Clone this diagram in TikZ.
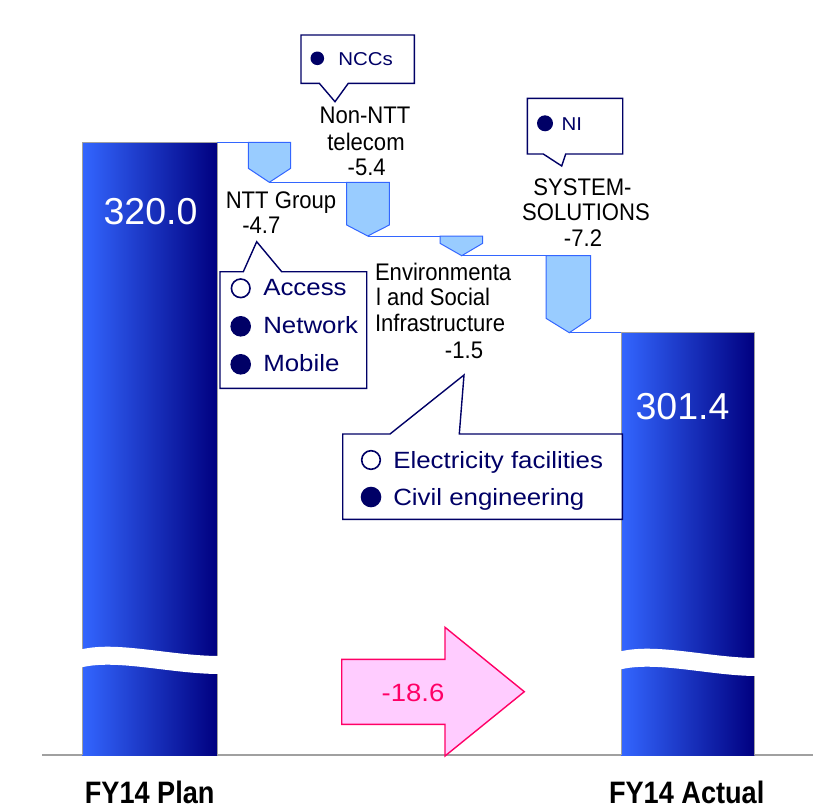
\documentclass[tikz,border=0pt]{standalone}
\usepackage{fontspec}
\setmainfont{Liberation Sans}
\newfontfamily\narrowfont[FakeStretch=0.92]{Liberation Sans}
\newfontfamily\widefont[FakeStretch=1.1]{Liberation Sans}
\newfontfamily\plainfont{Liberation Sans}
\newfontfamily\boldnarrow[FakeStretch=0.875]{Liberation Sans}

\definecolor{barL}{RGB}{51,102,255}
\definecolor{barR}{RGB}{0,0,128}
\definecolor{stepFill}{RGB}{153,204,255}
\definecolor{stepLine}{RGB}{51,102,255}
\definecolor{navy}{RGB}{0,0,102}
\definecolor{pinkLine}{RGB}{255,0,102}
\definecolor{pinkFill}{RGB}{255,204,255}
\definecolor{axisGray}{RGB}{160,160,160}

\tikzset{
  txt/.style={inner sep=0pt, outer sep=0pt},
  steplabel/.style={txt, font=\narrowfont\fontsize{24}{24}\selectfont, text=black},
  legendtext/.style={txt, font=\widefont\fontsize{23.5}{24}\selectfont, text=navy},
  smalllegend/.style={txt, font=\widefont\fontsize{18.6}{20}\selectfont, text=navy},
  barvalue/.style={txt, font=\plainfont\fontsize{37.5}{38}\selectfont, text=white},
  catlabel/.style={txt, font=\boldnarrow\bfseries\fontsize{31}{31}\selectfont, text=black},
  stepbox/.style={fill=stepFill, draw=stepLine, line width=1pt, line join=miter},
  steplink/.style={draw=stepLine, line width=1pt},
  callout/.style={fill=white, draw=navy, line width=1.4pt, line join=miter},
  opendot/.style={fill=white, draw=navy, line width=1.6pt},
  fulldot/.style={fill=navy, draw=none},
  bargrad/.style={left color=barL, right color=barR},
  barframe/.style={draw=axisGray, line width=0.8pt},
  gap/.style={fill=white, draw=none},
}

\begin{document}
\begin{tikzpicture}[x=1pt, y=-1pt]
\useasboundingbox (0,0) rectangle (813,811);

% --- axis line ---
\coordinate (axL) at (42,755);
\coordinate (axR) at (813,755);
\draw[axisGray, line width=1.3pt] (axL) -- (axR);

% --- the two bars ---
\shade[bargrad] (82,142.3) rectangle (217,755);
\draw[barframe] (82,755) -- (82,142.3) -- (217,142.3) -- (217,755);
\shade[bargrad] (621,332.7) rectangle (754.3,755);
\draw[barframe] (621,755) -- (621,332.7) -- (754.3,332.7) -- (754.3,755);

% axis breaks (white wavy bands)
\path[gap] (79,650) .. controls (115,640) and (170,656) .. (220,656)
        -- (220,674) .. controls (170,674) and (115,658) .. (79,668) -- cycle;
\path[gap] (618,652) .. controls (655,642) and (710,658) .. (757,658)
        -- (757,676) .. controls (710,676) and (655,660) .. (618,670) -- cycle;

% --- waterfall steps ---
\coordinate (barTop) at (217,142.3);
\coordinate (s1) at (248.3,142.3);
\coordinate (t1) at (269.3,182.3);
\coordinate (s2) at (346.7,182.3);
\coordinate (t2) at (367.7,236);
\coordinate (s3) at (440,236);
\coordinate (t3) at (461.7,255.7);
\coordinate (s4) at (546,255.7);
\coordinate (t4) at (569.3,332.7);
\coordinate (endTop) at (621,332.7);

\draw[steplink] (barTop) -- (s1);
\draw[steplink] (t1) -- (s2);
\draw[steplink] (t2) -- (s3);
\draw[steplink] (t3) -- (s4);
\draw[steplink] (t4) -- (endTop);

\path[stepbox] (s1) -- (290.7,142.3) -- (290.7,168.3) -- (t1) -- (248.3,168.3) -- cycle;
\path[stepbox] (s2) -- (389.3,182.3) -- (389.3,225) -- (t2) -- (346.7,225) -- cycle;
\path[stepbox] (s3) -- (482.7,236) -- (482.7,243.3) -- (t3) -- (440,243.3) -- cycle;
\path[stepbox] (s4) -- (590.7,255.7) -- (590.7,318.3) -- (t4) -- (546,318.3) -- cycle;

% --- bar values ---
\node[barvalue, anchor=base] (v1) at (150.5,224.3) {320.0};
\node[barvalue, anchor=base] (v2) at (682.5,419.3) {301.4};

% --- step labels ---
\node[steplabel, anchor=base] (ntta) at (281,208.3) {NTT Group};
\node[steplabel, anchor=base] (nttb) at (261.3,233.3) {-4.7};

\node[steplabel, anchor=base] (nona) at (365,123.3) {Non-NTT};
\node[steplabel, anchor=base] (nonb) at (366,150) {telecom};
\node[steplabel, anchor=base] (nonc) at (366.7,175) {-5.4};

\node[steplabel, anchor=base] (sysa) at (582.5,195) {SYSTEM-};
\node[steplabel, anchor=base] (sysb) at (586,220) {SOLUTIONS};
\node[steplabel, anchor=base] (sysc) at (583,246.7) {-7.2};

\node[steplabel, anchor=base west] (enva) at (375,280) {Environmenta};
\node[steplabel, anchor=base west] (envb) at (376,305) {l and Social};
\node[steplabel, anchor=base west] (envc) at (375,331.7) {Infrastructure};
\node[steplabel, anchor=base] (envd) at (464,358) {-1.5};

% --- callouts ---
% NCCs
\path[callout] (301,35) -- (414.3,35) -- (414.3,83.3) -- (348.3,83.3)
   -- (335,101.7) -- (319.3,83.3) -- (301,83.3) -- cycle;
\fill[fulldot] (317.3,58.3) circle (6.8);
\node[smalllegend, anchor=base west] (ncc) at (338.3,65) {NCCs};

% NI
\path[callout] (527.3,98.3) -- (622.7,98.3) -- (622.7,154) -- (565.7,154)
   -- (561.7,166) -- (543.3,154) -- (527.3,154) -- cycle;
\fill[fulldot] (545,123.3) circle (8);
\node[smalllegend, anchor=base west] (ni) at (561.7,130) {NI};

% NTT Group breakdown
\path[callout] (220,271.7) -- (243.3,271.7) -- (256.7,241.7) -- (281.7,271.7)
   -- (366.7,271.7) -- (366.7,388.3) -- (220,388.3) -- cycle;
\draw[opendot] (240.7,288.3) circle (9.3);
\fill[fulldot] (240.7,326.3) circle (10.3);
\fill[fulldot] (240.7,364.3) circle (10.3);
\node[legendtext, anchor=base west] (acc) at (263.3,295) {Access};
\node[legendtext, anchor=base west] (net) at (263.3,333.3) {Network};
\node[legendtext, anchor=base west] (mob) at (263.3,371.7) {Mobile};

% Environmental and Social Infrastructure breakdown
\path[callout] (342.7,434) -- (390,434) -- (464,375) -- (459.3,434)
   -- (622.3,434) -- (622.3,519.3) -- (342.7,519.3) -- cycle;
\draw[opendot] (371,460) circle (9.3);
\fill[fulldot] (371,497) circle (10.3);
\node[legendtext, anchor=base west] (ele) at (393.3,468.3) {Electricity facilities};
\node[legendtext, anchor=base west] (civ) at (393.3,505) {Civil engineering};

% --- total change arrow ---
\path[fill=pinkFill, draw=pinkLine, line width=1.4pt, line join=miter]
  (341.7,659.3) -- (445,659.3) -- (445,627.3) -- (524.3,691.7)
  -- (445,756) -- (445,724.3) -- (341.7,724.3) -- cycle;
\node[txt, anchor=base, text=pinkLine, font=\widefont\fontsize{25}{25}\selectfont] (chg) at (413,701.7) {-18.6};

% --- category labels ---
\node[catlabel, anchor=base] (plan) at (149.7,803.5) {FY14 Plan};
\node[catlabel, anchor=base] (act) at (686.7,803.5) {FY14 Actual};
\end{tikzpicture}
\end{document}
